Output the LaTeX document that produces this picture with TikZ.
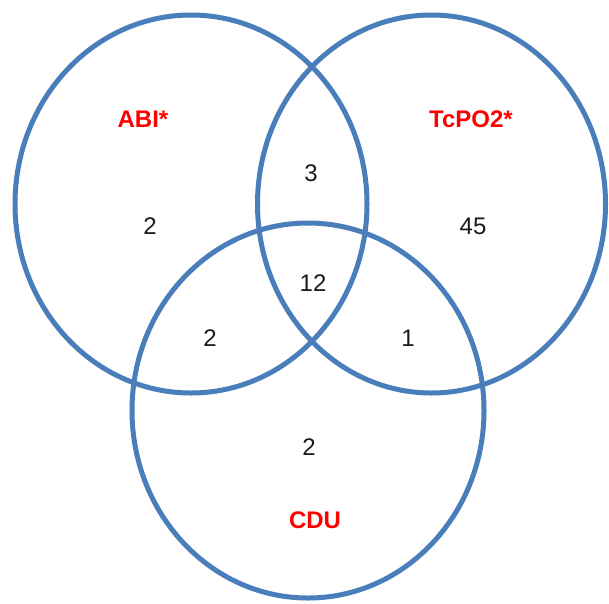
\documentclass[tikz,border=0pt]{standalone}
\usepackage{fontspec}
\setmainfont{Liberation Sans}
\definecolor{ringblue}{HTML}{4A7EBB}
\definecolor{setred}{HTML}{FF0000}
\definecolor{numgray}{HTML}{1A1A1A}
\begin{document}
\begin{tikzpicture}[x=1pt,y=-1pt,
  ring/.style={draw=ringblue,line width=5pt},
  setname/.style={text=setred,font=\fontsize{24}{28}\selectfont\bfseries,inner sep=0pt},
  count/.style={text=numgray,font=\fontsize{24}{28}\selectfont,inner sep=0pt}]
\useasboundingbox (0,0) rectangle (609,603);
% three overlapping sets
\draw[ring] (191,204) ellipse [x radius=176,y radius=189];
\draw[ring] (431.5,204) ellipse [x radius=174,y radius=189];
\draw[ring] (308,410.5) ellipse [x radius=176,y radius=187.5];
% set names
\node[setname] (abi) at (143,119) {ABI*};
\node[setname] (tcpo) at (471,119) {TcPO2*};
\node[setname] (cdu) at (315,520) {CDU};
% region counts
\node[count] (nA) at (150,226) {2};
\node[count] (nAT) at (311,173) {3};
\node[count] (nT) at (473,226) {45};
\node[count] (nATC) at (313,283) {12};
\node[count] (nAC) at (210,338) {2};
\node[count] (nTC) at (408,338) {1};
\node[count] (nC) at (309,447) {2};
\end{tikzpicture}
\end{document}
